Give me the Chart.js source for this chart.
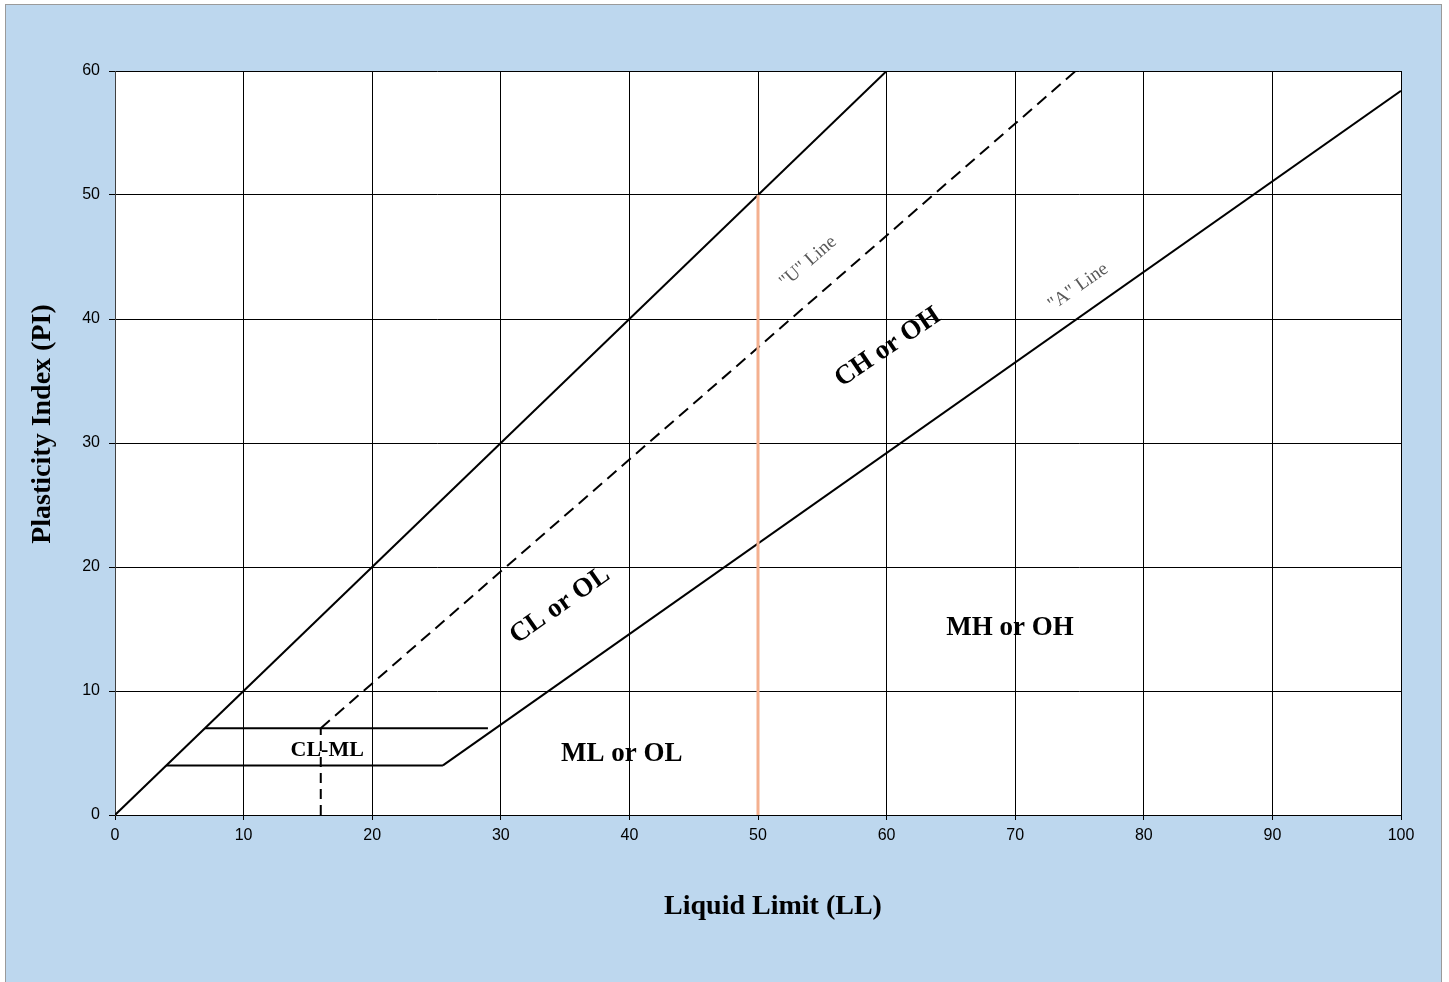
<!DOCTYPE html>
<html>
<head>
<meta charset="utf-8">
<script src="https://cdn.jsdelivr.net/npm/chart.js@4/dist/chart.umd.min.js"></script>
<style>
  html, body { margin: 0; padding: 0; background: #fff; }
  #wrap { width: 1449px; height: 982px; }
</style>
</head>
<body>
<div id="wrap"><canvas id="plasticity"></canvas></div>
<script>
// axis ticks
const llTicks = [0, 10, 20, 30, 40, 50, 60, 70, 80, 90, 100];
const piTicks = [0, 10, 20, 30, 40, 50, 60];

// boundary lines (LL, PI)
const equalLL = [0, 60];
const equalPI = [0, 60];
const uLineLL = [16, 74.7];
const uLinePI = [7, 60];
const uStemLL = [16, 16];
const uStemPI = [0, 7];
const aLineLL = [25.5, 100];
const aLinePI = [4, 58.4];
const upperBandLL = [7, 29];
const upperBandPI = [7, 7];
const lowerBandLL = [4, 25.5];
const lowerBandPI = [4, 4];
const ll50LL = [50, 50];
const ll50PI = [0, 50];

// zone labels
const zoneNames = ["CL-ML", "ML or OL", "CL or OL", "CH or OH", "MH or OH", "\"U\" Line", "\"A\" Line"];
const zoneLL = [16.5, 39.4, 34.6, 60.1, 69.6, 53.9, 74.9];
const zonePI = [5.25, 4.9, 16.9, 37.7, 15.1, 44.6, 42.6];
const zoneAngle = [0, 0, -35, -34, 0, -41, -35];

const pts = (xs, ys) => xs.map((x, i) => ({ x: x, y: ys[i] }));

const line = (xs, ys, color, width, dash) => ({
	data: pts(xs, ys),
	showLine: true,
	borderColor: color,
	borderWidth: width,
	borderDash: dash || [],
	pointRadius: 0,
	fill: false,
});

const frame = {
	id: "frame",
	beforeDraw(chart) {
		const c = chart.ctx;
		c.save();
		c.fillStyle = "#ffffff";
		c.fillRect(0, 0, chart.width, chart.height);
		c.fillStyle = "#bdd7ee";
		c.fillRect(5, 4, 1437, 978);
		c.strokeStyle = "#9a9a9a";
		c.lineWidth = 1;
		c.strokeRect(5.5, 4.5, 1436, 980);
		const a = chart.chartArea;
		c.fillStyle = "#ffffff";
		c.fillRect(a.left, a.top, a.right - a.left, a.bottom - a.top);
		c.restore();
	},
};

const labels = {
	id: "labels",
	afterDatasetsDraw(chart) {
		const c = chart.ctx;
		const xs = chart.scales.x;
		const ys = chart.scales.y;
		const a = chart.chartArea;
		c.save();
		zoneNames.forEach((name, i) => {
			const isLine = name.indexOf("Line") > -1;
			let size = 27;
			if (i == 0) size = 22;
			if (isLine) size = 19;
			c.font = (isLine ? "" : "bold ") + size + "px 'Liberation Serif', 'Times New Roman', serif";
			c.fillStyle = isLine ? "#595959" : "#000000";
			c.textAlign = "center";
			c.textBaseline = "middle";
			c.save();
			c.translate(xs.getPixelForValue(zoneLL[i]), ys.getPixelForValue(zonePI[i]));
			c.rotate((zoneAngle[i] * Math.PI) / 180);
			c.fillText(name, 0, 0);
			c.restore();
		});

		// axis titles
		c.font = "bold 28px 'Liberation Serif', 'Times New Roman', serif";
		c.fillStyle = "#000000";
		c.textAlign = "center";
		c.textBaseline = "middle";
		c.fillText("Liquid Limit (LL)", (a.left + a.right) / 2 + 15, a.bottom + 92);
		c.save();
		c.translate(a.left - 72, (a.top + a.bottom) / 2 - 19);
		c.rotate(-Math.PI / 2);
		c.fillText("Plasticity Index (PI)", 0, 0);
		c.restore();
		c.restore();
	},
};

const ctx = document.getElementById("plasticity").getContext("2d");
const chart = new Chart(ctx, {
	type: "scatter",
	data: {
		datasets: [
			line(ll50LL, ll50PI, "#f4b08f", 3),
			line(equalLL, equalPI, "#000000", 2),
			line(uLineLL, uLinePI, "#000000", 2, [12, 7]),
			line(uStemLL, uStemPI, "#000000", 2, [10, 6]),
			line(aLineLL, aLinePI, "#000000", 2),
			line(upperBandLL, upperBandPI, "#000000", 2),
			line(lowerBandLL, lowerBandPI, "#000000", 2),
		],
	},
	options: {
		responsive: true,
		maintainAspectRatio: false,
		animation: false,
		layout: {
			padding: { top: 71, right: 48, left: 0, bottom: 0 },
		},
		plugins: {
			legend: { display: false },
			tooltip: { enabled: false },
		},
		scales: {
			x: {
				type: "linear",
				min: 0,
				max: 100,
				afterBuildTicks: (s) => {
					s.ticks = llTicks.map((v) => ({ value: v }));
				},
				afterFit: (s) => {
					s.height = 167;
				},
				grid: {
					color: "#000000",
					lineWidth: 1,
					tickLength: 5,
					drawTicks: true,
				},
				border: { color: "#000000", width: 1 },
				ticks: {
					color: "#000000",
					padding: 6,
					maxRotation: 0,
					font: { family: "'Liberation Sans', Arial, sans-serif", size: 16 },
				},
			},
			y: {
				type: "linear",
				min: 0,
				max: 60,
				afterBuildTicks: (s) => {
					s.ticks = piTicks.map((v) => ({ value: v }));
				},
				afterFit: (s) => {
					s.width = 115;
				},
				grid: {
					color: "#000000",
					lineWidth: 1,
					tickLength: 6,
					drawTicks: true,
				},
				border: { color: "#404040", width: 1 },
				ticks: {
					color: "#000000",
					padding: 9,
					font: { family: "'Liberation Sans', Arial, sans-serif", size: 16 },
				},
			},
		},
	},
	plugins: [frame, labels],
});
</script>
</body>
</html>
